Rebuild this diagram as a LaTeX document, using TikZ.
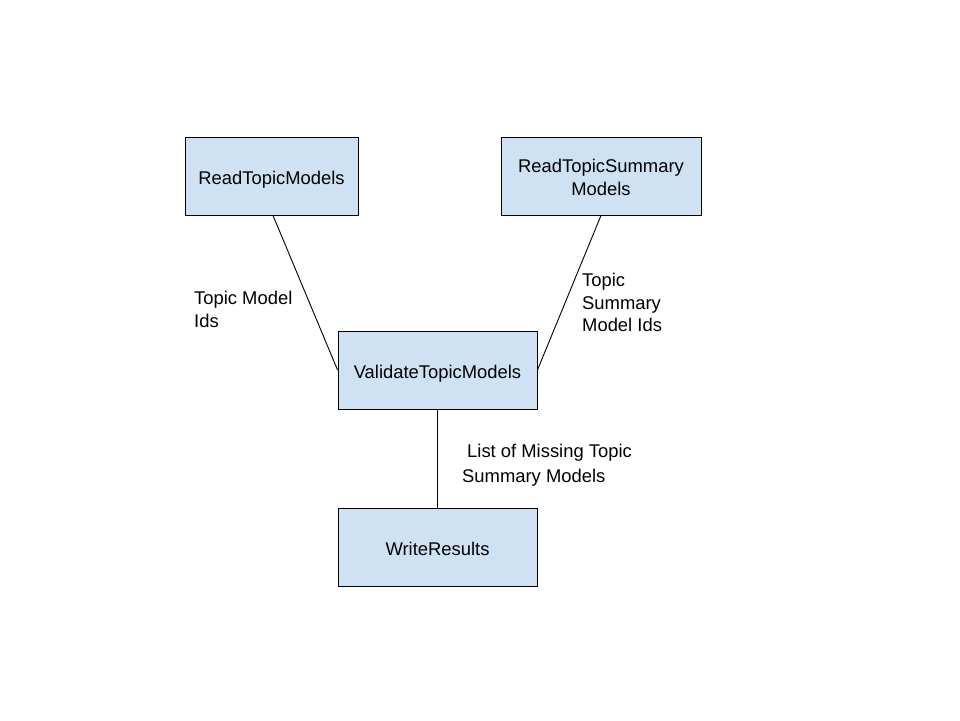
\documentclass[tikz,border=0pt]{standalone}
\usepackage{fontspec}
\setmainfont{Liberation Sans}
\definecolor{boxfill}{HTML}{CFE2F3}
\begin{document}
\begin{tikzpicture}[x=1pt,y=-1pt,
  box/.style={draw=black, fill=boxfill, line width=0.9pt, minimum width=#1, minimum height=78pt, inner sep=2pt, align=center, font=\fontsize{18.4}{22.5}\selectfont},
  onebox/.style={box=#1, text height=20pt, text depth=4pt},
  lbl/.style={anchor=west, inner sep=0pt, align=left, font=\fontsize{18.4}{22.5}\selectfont},
  conn/.style={draw=black, line width=0.9pt}]
\useasboundingbox (0,0) rectangle (960,720);
\node[onebox=173pt] (rtm) at (271.5,176) {ReadTopicModels};
\node[box=200pt] (rtsm) at (601,176) {\rule{0pt}{16pt}ReadTopicSummary\\Models};
\node[onebox=199pt] (vtm) at (437.5,370) {ValidateTopicModels};
\node[onebox=199pt] (wr) at (437.5,547) {WriteResults};
\draw[conn] ([xshift=1.5pt]rtm.south) -- (vtm.west);
\draw[conn] (rtsm.south) -- (vtm.east);
\draw[conn] (vtm.south) -- (wr.north);
\node[lbl] (l1) at (194,309.5) {Topic Model\\Ids};
\node[lbl] (l2) at (582,302.5) {Topic\\Summary\\Model Ids};
\node[lbl, font=\fontsize{18.4}{25}\selectfont] (l3) at (462,465.5) {\hspace*{5pt}List of Missing Topic\\Summary Models};
\end{tikzpicture}
\end{document}
